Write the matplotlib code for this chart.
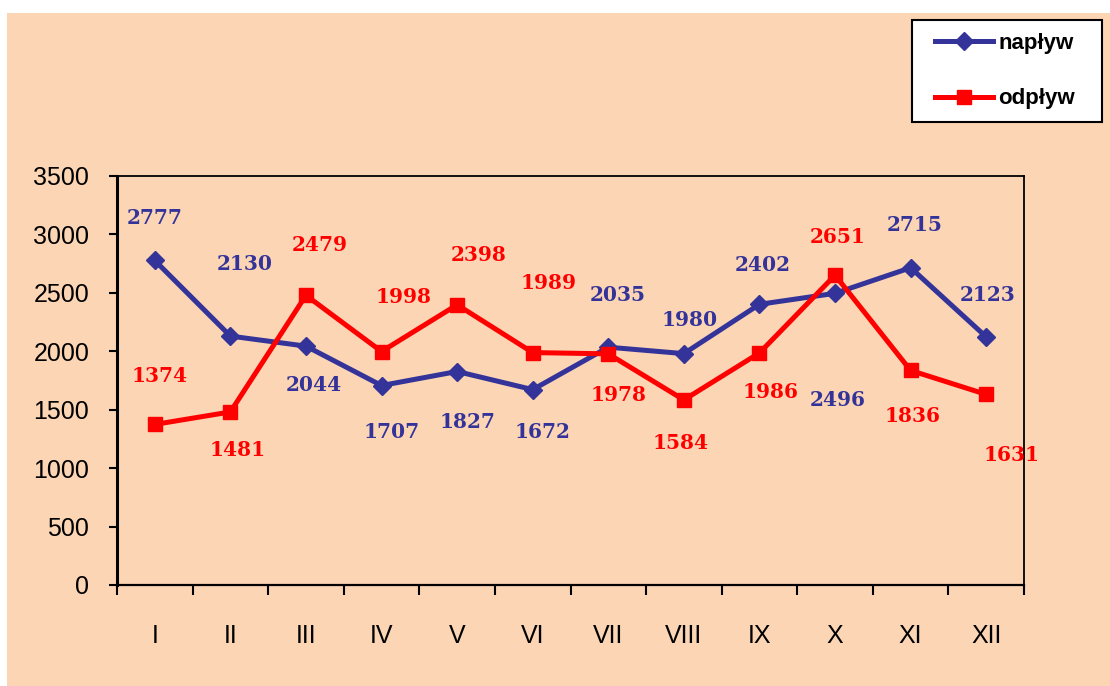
import numpy as np
from matplotlib import pyplot as plt
from matplotlib.patches import Rectangle

months = ['I', 'II', 'III', 'IV', 'V', 'VI', 'VII', 'VIII', 'IX', 'X', 'XI', 'XII']
naplyw = [2777, 2130, 2044, 1707, 1827, 1672, 2035, 1980, 2402, 2496, 2715, 2123]
odplyw = [1374, 1481, 2479, 1998, 2398, 1989, 1978, 1584, 1986, 2651, 1836, 1631]

# label offsets in pixels (dx, dy) relative to the point, picked by eye
naplyw_off = [(0, 42), (14, 72), (8, -39), (10, -46), (10, -50), (10, -42),
              (9, 52), (6, 34), (3, 39), (3, -107), (4, 43), (1, 42)]
odplyw_off = [(5, 48), (7, -38), (14, 50), (22, 55), (22, 50), (16, 70),
              (10, -41), (-3, -43), (11, -39), (3, 38), (2, -46), (25, -61)]

NAVY = '#333399'
RED = '#ff0000'
PEACH = '#fcd5b4'

plt.rcParams['font.family'] = ['Liberation Sans', 'DejaVu Sans']

W, H = 1110, 686
fig = plt.figure(figsize=(W / 100, H / 100), dpi=100, facecolor='white')
fig.patches.append(Rectangle((7 / W, 0), 1, 1 - 13 / H, transform=fig.transFigure,
                             facecolor=PEACH, edgecolor='none', zorder=-10))

ax = fig.add_axes([117 / W, 1 - 585 / H, (1024 - 117) / W, (585 - 176) / H])
ax.set_facecolor(PEACH)

x = np.arange(len(months))
l1, = ax.plot(x, naplyw, color=NAVY, lw=3.6, marker='D', ms=9, label='napływ', zorder=3)
l2, = ax.plot(x, odplyw, color=RED, lw=3.6, marker='s', ms=10.5, label='odpływ', zorder=3)

px = 72 / 100  # pixels -> points
for i in range(len(months)):
    ax.annotate(str(naplyw[i]), (x[i], naplyw[i]), xytext=(naplyw_off[i][0] * px, naplyw_off[i][1] * px),
                textcoords='offset points', ha='center', va='center', color=NAVY,
                fontsize=14.5, fontweight='bold', family='DejaVu Serif')
    ax.annotate(str(odplyw[i]), (x[i], odplyw[i]), xytext=(odplyw_off[i][0] * px, odplyw_off[i][1] * px),
                textcoords='offset points', ha='center', va='center', color=RED,
                fontsize=14.5, fontweight='bold', family='DejaVu Serif')

ax.set_xlim(-0.5, len(months) - 0.5)
ax.set_ylim(0, 3500)
ax.set_yticks(np.arange(0, 3501, 500))
ax.tick_params(axis='y', direction='out', length=6, width=1.5, labelsize=18, pad=14)

ax.set_xticks(np.arange(-0.5, len(months)), [''] * (len(months) + 1))
ax.set_xticks(x, months, minor=True)
ax.tick_params(axis='x', which='major', direction='out', length=7, width=1.5)
ax.tick_params(axis='x', which='minor', length=0, labelsize=18, pad=28)

ax.spines['left'].set_linewidth(2.2)
ax.spines['bottom'].set_linewidth(1.6)
ax.spines['top'].set_linewidth(1.3)
ax.spines['right'].set_linewidth(1.3)

# legend box drawn separately, legend itself without frame
fig.patches.append(Rectangle((912 / W, 1 - 122 / H), (1102 - 912) / W, (122 - 20) / H,
                             transform=fig.transFigure, facecolor='white',
                             edgecolor='black', linewidth=1.5, zorder=5))
leg = fig.legend(handles=[l1, l2], loc='upper left', bbox_to_anchor=(935 / W, 1 - 33 / H),
                 frameon=False, prop={'family': 'Liberation Sans', 'weight': 'bold', 'size': 16},
                 handlelength=2.6, labelspacing=1.55, borderpad=0, handletextpad=0.25,
                 borderaxespad=0)
leg.set_zorder(6)

fig.savefig('out.png', dpi=100, facecolor='white')
